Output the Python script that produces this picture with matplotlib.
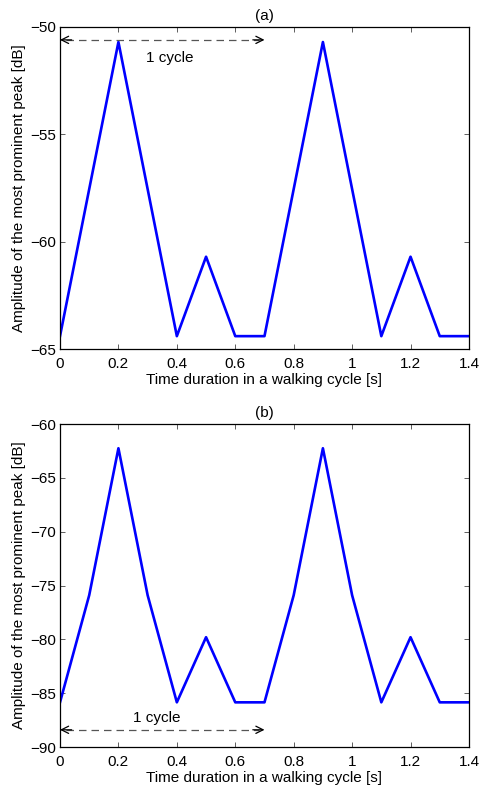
import matplotlib
matplotlib.use('Agg')
import matplotlib.pyplot as plt
from matplotlib.ticker import FuncFormatter

# data
time_s = [0.0, 0.1, 0.2, 0.3, 0.4, 0.5, 0.6, 0.7, 0.8, 0.9, 1.0, 1.1, 1.2, 1.3, 1.4]
amp_a = [-64.4, -57.55, -50.7, -57.55, -64.4, -60.7, -64.4, -64.4,
         -57.55, -50.7, -57.55, -64.4, -60.7, -64.4, -64.4]
amp_b = [-85.85, -75.9, -62.25, -75.9, -85.85, -79.8, -85.85, -85.85,
         -75.9, -62.25, -75.9, -85.85, -79.8, -85.85, -85.85]

cycle_start, cycle_end = 0.0, 0.7
arrow_y_a, text_xy_a = -50.6, (0.377, -51.45)
arrow_y_b, text_xy_b = -88.4, (0.332, -87.3)

ylim_a = (-65, -50)
ylim_b = (-90, -60)
xticks = [0, 0.2, 0.4, 0.6, 0.8, 1.0, 1.2, 1.4]

plt.rcParams['font.family'] = ['Liberation Sans', 'DejaVu Sans']
plt.rcParams['font.size'] = 11


def style_axis(ax, ylim, yticks):
    ax.set_xlim(0, 1.4)
    ax.set_ylim(*ylim)
    ax.set_xticks(xticks)
    ax.set_yticks(yticks)
    ax.xaxis.set_major_formatter(FuncFormatter(lambda v, p: '%g' % v))
    ax.yaxis.set_major_formatter(FuncFormatter(lambda v, p: '\u2212%g' % abs(v) if v < 0 else '%g' % v))
    ax.tick_params(direction='in', top=True, right=True, length=3.5,
                   width=0.6, color='#444444', labelsize=11)
    ax.tick_params(axis='x', pad=6)
    ax.tick_params(axis='y', pad=3)
    for sp in ax.spines.values():
        sp.set_linewidth(0.9)
    ax.set_xlabel('Time duration in a walking cycle [s]', labelpad=1)
    ax.set_ylabel('Amplitude of the most prominent peak [dB]', labelpad=3)


def cycle_arrow(ax, y, text_xy):
    ax.plot([cycle_start + 0.02, cycle_end - 0.02], [y, y],
            color='#555555', lw=0.9, dashes=(6, 4))
    for a, b in [(cycle_start + 0.04, cycle_start), (cycle_end - 0.04, cycle_end)]:
        ax.annotate('', xy=(b, y), xytext=(a, y),
                    arrowprops=dict(arrowstyle='->', color='black', lw=0.9,
                                    mutation_scale=13, shrinkA=0, shrinkB=0))
    ax.text(text_xy[0], text_xy[1], '1 cycle', ha='center', va='center')


fig = plt.figure(figsize=(4.8, 7.87), dpi=100)
ax1 = fig.add_axes([0.125, 0.5565, 0.852, 0.4092])
ax2 = fig.add_axes([0.125, 0.0508, 0.852, 0.4104])

ax1.plot(time_s, amp_a, color='blue', lw=1.9)
style_axis(ax1, ylim_a, [-65, -60, -55, -50])
ax1.set_title('(a)', fontsize=11, pad=5)
cycle_arrow(ax1, arrow_y_a, text_xy_a)

ax2.plot(time_s, amp_b, color='blue', lw=1.9)
style_axis(ax2, ylim_b, [-90, -85, -80, -75, -70, -65, -60])
ax2.set_title('(b)', fontsize=11, pad=5)
cycle_arrow(ax2, arrow_y_b, text_xy_b)

fig.savefig('out.png', dpi=100)
